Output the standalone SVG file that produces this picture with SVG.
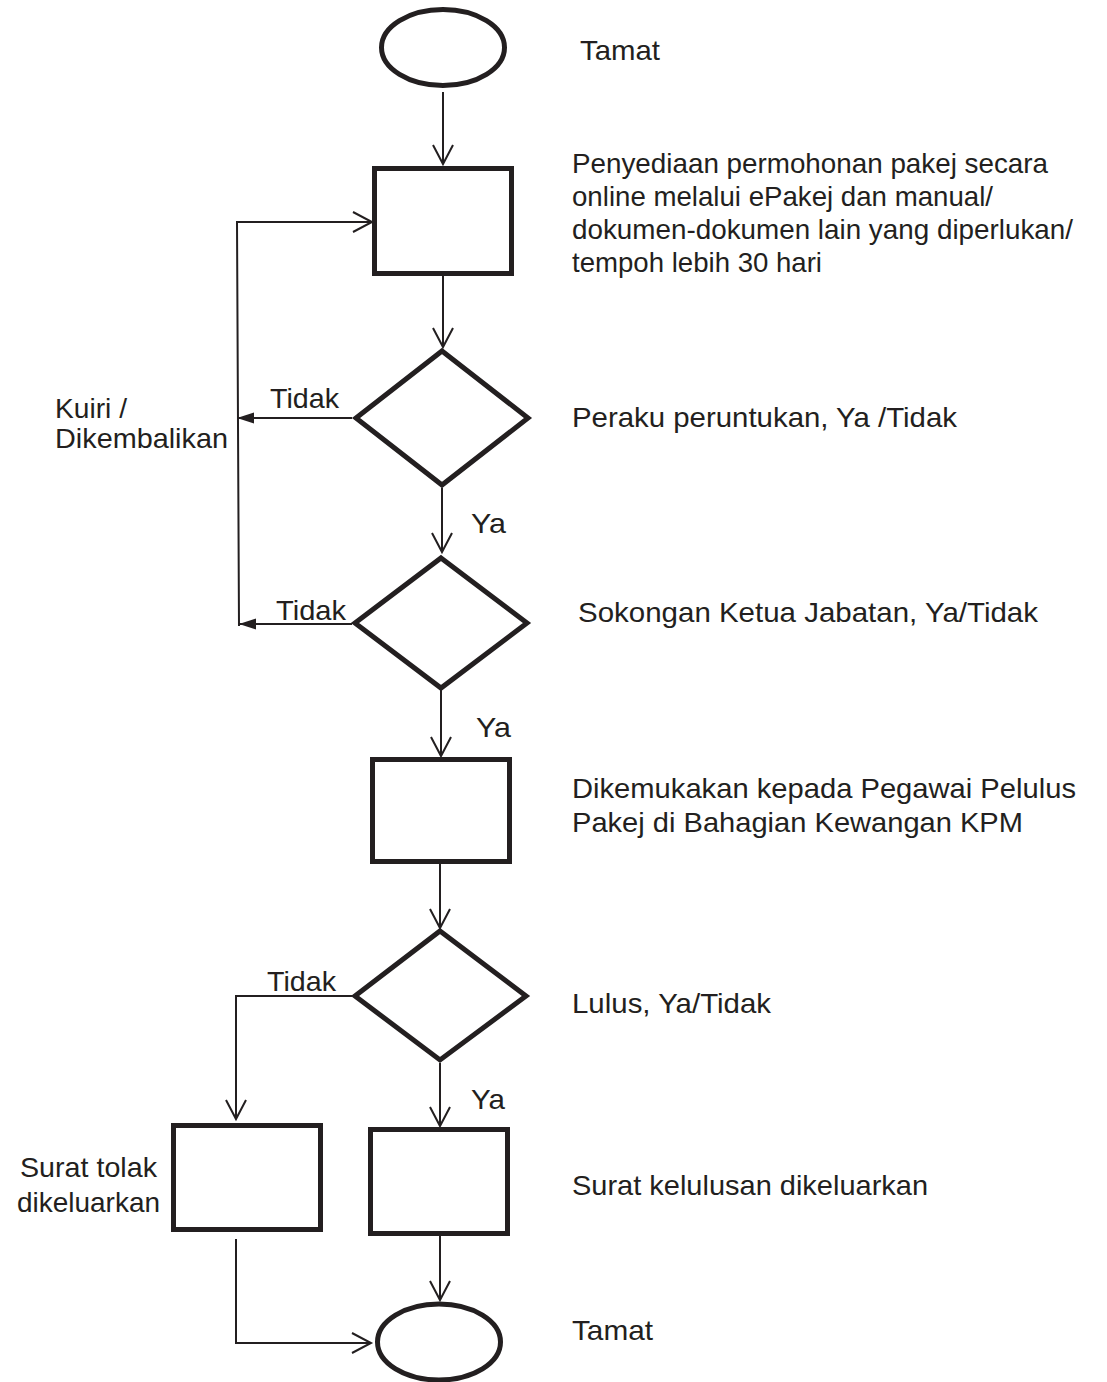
<svg xmlns="http://www.w3.org/2000/svg" width="1107" height="1382" viewBox="0 0 1107 1382">
<style>
.shape{fill:#fff;stroke:#231f20;stroke-width:5;stroke-miterlimit:10}
.conn{fill:none;stroke:#231f20;stroke-width:2}
.t{font-family:"Liberation Sans",Arial,sans-serif;font-size:28px;fill:#231f20}
</style>
<defs>
<marker id="open" viewBox="0 0 24 24" markerWidth="24" markerHeight="24" refX="20" refY="12" orient="auto" markerUnits="userSpaceOnUse">
<path d="M1,2 L20,12 L1,22" fill="none" stroke="#231f20" stroke-width="2"/>
</marker>
<marker id="filled" viewBox="0 0 18 12" markerWidth="18" markerHeight="12" refX="17" refY="6" orient="auto" markerUnits="userSpaceOnUse">
<path d="M0,0.5 L17,6 L0,11.5 Z" fill="#231f20"/>
</marker>
</defs>
<rect width="1107" height="1382" fill="#fff"/>

<g id="connectors">
<line class="conn" x1="443" y1="92" x2="443" y2="164" marker-end="url(#open)"/>
<line class="conn" x1="443" y1="276" x2="443" y2="347" marker-end="url(#open)"/>
<line class="conn" x1="352" y1="418" x2="237" y2="418" marker-end="url(#filled)"/>
<polyline class="conn" points="239,626 237,222 372,222" marker-end="url(#open)"/>
<line class="conn" x1="442" y1="488" x2="442" y2="552" marker-end="url(#open)"/>
<line class="conn" x1="352" y1="624" x2="239" y2="624" marker-end="url(#filled)"/>
<line class="conn" x1="441" y1="690" x2="441" y2="756" marker-end="url(#open)"/>
<line class="conn" x1="440" y1="864" x2="440" y2="928" marker-end="url(#open)"/>
<polyline class="conn" points="352,996 236,996 236,1119" marker-end="url(#open)"/>
<line class="conn" x1="440" y1="1063" x2="440" y2="1126" marker-end="url(#open)"/>
<line class="conn" x1="440" y1="1236" x2="440" y2="1300" marker-end="url(#open)"/>
<polyline class="conn" points="236,1239 236,1343 371,1343" marker-end="url(#open)"/>
<text class="t" x="270" y="408" textLength="69" lengthAdjust="spacingAndGlyphs">Tidak</text>
<text class="t" x="471" y="533" textLength="35" lengthAdjust="spacingAndGlyphs">Ya</text>
<text class="t" x="276" y="620" textLength="70" lengthAdjust="spacingAndGlyphs">Tidak</text>
<text class="t" x="476" y="737" textLength="35" lengthAdjust="spacingAndGlyphs">Ya</text>
<text class="t" x="267" y="991" textLength="69" lengthAdjust="spacingAndGlyphs">Tidak</text>
<text class="t" x="471" y="1109" textLength="34" lengthAdjust="spacingAndGlyphs">Ya</text>
</g>

<g id="start">
<ellipse class="shape" cx="443" cy="47.5" rx="61.5" ry="38"/>
<text class="t" x="580" y="60" textLength="80" lengthAdjust="spacingAndGlyphs">Tamat</text>
</g>

<g id="prepare">
<rect class="shape" x="374.5" y="168.5" width="137" height="105"/>
<text class="t" x="572" y="173" textLength="476" lengthAdjust="spacingAndGlyphs">Penyediaan permohonan pakej secara</text>
<text class="t" x="572" y="206" textLength="421" lengthAdjust="spacingAndGlyphs">online melalui ePakej dan manual/</text>
<text class="t" x="572" y="239" textLength="501" lengthAdjust="spacingAndGlyphs">dokumen-dokumen lain yang diperlukan/</text>
<text class="t" x="572" y="272" textLength="250" lengthAdjust="spacingAndGlyphs">tempoh lebih 30 hari</text>
</g>

<g id="query">
<text class="t" x="55" y="418" textLength="72" lengthAdjust="spacingAndGlyphs">Kuiri /</text>
<text class="t" x="55" y="448" textLength="173" lengthAdjust="spacingAndGlyphs">Dikembalikan</text>
</g>

<g id="decision1">
<polygon class="shape" points="442,351 528,418 442,485 356,418"/>
<text class="t" x="572" y="427" textLength="385" lengthAdjust="spacingAndGlyphs">Peraku peruntukan, Ya /Tidak</text>
</g>

<g id="decision2">
<polygon class="shape" points="441,558 527,623 441,688 355,623"/>
<text class="t" x="578" y="622" textLength="460" lengthAdjust="spacingAndGlyphs">Sokongan Ketua Jabatan, Ya/Tidak</text>
</g>

<g id="submit">
<rect class="shape" x="372.5" y="759.5" width="137" height="102"/>
<text class="t" x="572" y="798" textLength="504" lengthAdjust="spacingAndGlyphs">Dikemukakan kepada Pegawai Pelulus</text>
<text class="t" x="572" y="832" textLength="451" lengthAdjust="spacingAndGlyphs">Pakej di Bahagian Kewangan KPM</text>
</g>

<g id="decision3">
<polygon class="shape" points="440,931 526,996 440,1060 355,996"/>
<text class="t" x="572" y="1013" textLength="199" lengthAdjust="spacingAndGlyphs">Lulus, Ya/Tidak</text>
</g>

<g id="reject">
<rect class="shape" x="173.5" y="1125.5" width="147" height="104"/>
<text class="t" x="20" y="1177" textLength="137" lengthAdjust="spacingAndGlyphs">Surat tolak</text>
<text class="t" x="17" y="1212" textLength="143" lengthAdjust="spacingAndGlyphs">dikeluarkan</text>
</g>

<g id="approve">
<rect class="shape" x="370.5" y="1129.5" width="137" height="104"/>
<text class="t" x="572" y="1195" textLength="356" lengthAdjust="spacingAndGlyphs">Surat kelulusan dikeluarkan</text>
</g>

<g id="end">
<ellipse class="shape" cx="439" cy="1342" rx="61.5" ry="38"/>
<text class="t" x="572" y="1340" textLength="81" lengthAdjust="spacingAndGlyphs">Tamat</text>
</g>
</svg>
